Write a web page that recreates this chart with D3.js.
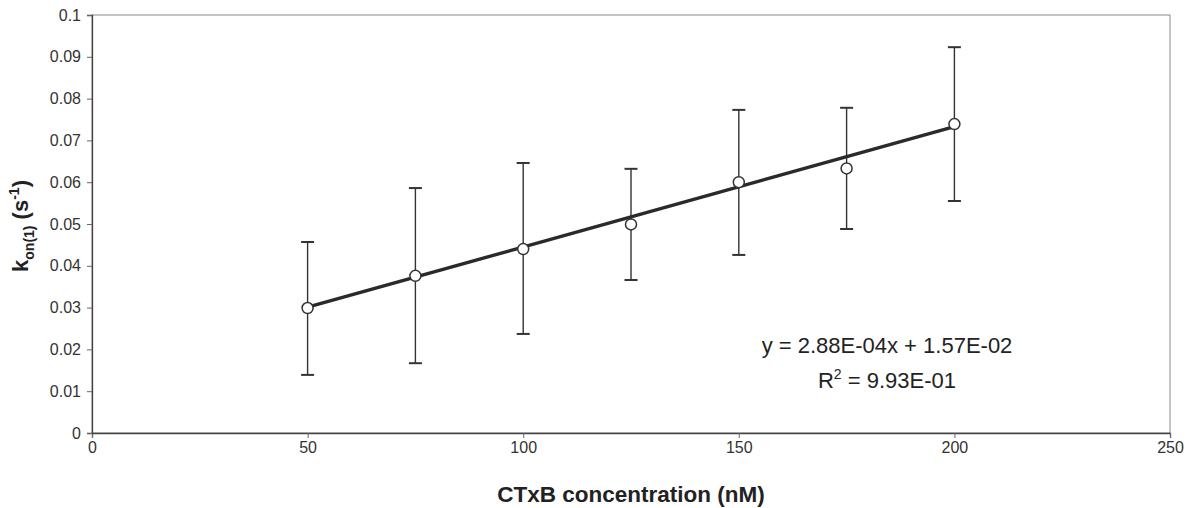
<!DOCTYPE html>
<html><head><meta charset="utf-8">
<script src="https://cdn.jsdelivr.net/npm/d3@7"></script>
<style>body{margin:0;background:#fff;font-family:Arial,"Liberation Sans",sans-serif;}</style>
</head><body><svg id="c" width="1197" height="508"></svg>
<script>
const concentrations = [50, 75, 100, 125, 150, 175, 200];
const konValues = [0.0299, 0.0376, 0.0440, 0.0499, 0.0600, 0.0633, 0.0739];
const errUpper = [0.0457, 0.0586, 0.0646, 0.0632, 0.0773, 0.0778, 0.0923];
const errLower = [0.0139, 0.0167, 0.0237, 0.0366, 0.0426, 0.0488, 0.0555];
const xTicks = [0, 50, 100, 150, 200, 250];
const yTicks = [0, 0.01, 0.02, 0.03, 0.04, 0.05, 0.06, 0.07, 0.08, 0.09, 0.1];
const slope = 2.88e-4, intercept = 1.57e-2;
const eqText = "y = 2.88E-04x + 1.57E-02";
const r2Text = "9.93E-01";

const svg = d3.select("#c");
const m = {l:92, r:1170, t:15, b:433};
const x = d3.scaleLinear().domain([0,250]).range([m.l, m.r]);
const y = d3.scaleLinear().domain([0,0.1]).range([m.b, m.t]);
const FONT = "Arial, Liberation Sans, sans-serif";

// plot-area border
svg.append("rect").attr("x", m.l).attr("y", m.t).attr("width", m.r-m.l).attr("height", m.b-m.t)
  .attr("fill","none").attr("stroke","#8a8a8a").attr("stroke-width",1);

const xa = svg.append("g").attr("transform",`translate(0,${m.b})`)
  .call(d3.axisBottom(x).tickValues(xTicks).tickSize(5).tickPadding(4).tickFormat(d3.format("d")));
const ya = svg.append("g").attr("transform",`translate(${m.l},0)`)
  .call(d3.axisLeft(y).tickValues(yTicks).tickSize(5).tickPadding(6).tickFormat(d => d===0?"0":(d===0.1?"0.1":d3.format(".2f")(d))));
[xa, ya].forEach(g => {
  g.select(".domain").attr("stroke","#444").attr("stroke-width",1.3);
  g.selectAll(".tick line").attr("stroke","#666");
  g.selectAll("text").attr("font-size",16).attr("fill","#333").attr("font-family",FONT);
});

// error bars
const data = concentrations.map((c,i)=>({c, v:konValues[i], hi:errUpper[i], lo:errLower[i]}));
const eb = svg.append("g").attr("stroke","#333").attr("stroke-width",1.4);
data.forEach(d=>{
  eb.append("line").attr("x1",x(d.c)).attr("x2",x(d.c)).attr("y1",y(d.hi)).attr("y2",y(d.lo));
  eb.append("line").attr("x1",x(d.c)-6.5).attr("x2",x(d.c)+6.5).attr("y1",y(d.hi)).attr("y2",y(d.hi)).attr("stroke-width",2);
  eb.append("line").attr("x1",x(d.c)-6.5).attr("x2",x(d.c)+6.5).attr("y1",y(d.lo)).attr("y2",y(d.lo)).attr("stroke-width",2);
});

// trendline
const xMin = d3.min(concentrations), xMax = d3.max(concentrations);
svg.append("line").attr("x1",x(xMin)).attr("y1",y(slope*xMin+intercept))
  .attr("x2",x(xMax)).attr("y2",y(slope*xMax+intercept))
  .attr("stroke","#2a2a2a").attr("stroke-width",3.4);

// markers
svg.append("g").selectAll("circle").data(data).join("circle")
  .attr("cx",d=>x(d.c)).attr("cy",d=>y(d.v)).attr("r",5.5)
  .attr("fill","#fff").attr("stroke","#333").attr("stroke-width",1.5);

// equation
const eq = svg.append("g").attr("font-size",22).attr("fill","#222").attr("text-anchor","middle").attr("font-family",FONT);
eq.append("text").attr("x",887).attr("y",353).text(eqText);
const r2 = eq.append("text").attr("x",887).attr("y",388);
r2.append("tspan").text("R");
r2.append("tspan").attr("font-size",14).attr("dy",-9).text("2");
r2.append("tspan").attr("dy",9).text(" = " + r2Text);

// axis titles
svg.append("text").attr("x",631).attr("y",502).attr("text-anchor","middle").attr("font-family",FONT)
  .attr("font-size",22.5).attr("font-weight","bold").attr("fill","#222").text("CTxB concentration (nM)");
const yt = svg.append("text").attr("transform",`translate(28,226) rotate(-90)`).attr("font-family",FONT)
  .attr("text-anchor","middle").attr("font-size",22).attr("font-weight","bold").attr("fill","#222");
yt.append("tspan").text("k");
yt.append("tspan").attr("font-size",14).attr("dy",6).text("on(1)");
yt.append("tspan").attr("dy",-6).text(" (s");
yt.append("tspan").attr("font-size",14).attr("dy",-9).text("-1");
yt.append("tspan").attr("dy",9).text(")");
</script></body></html>
